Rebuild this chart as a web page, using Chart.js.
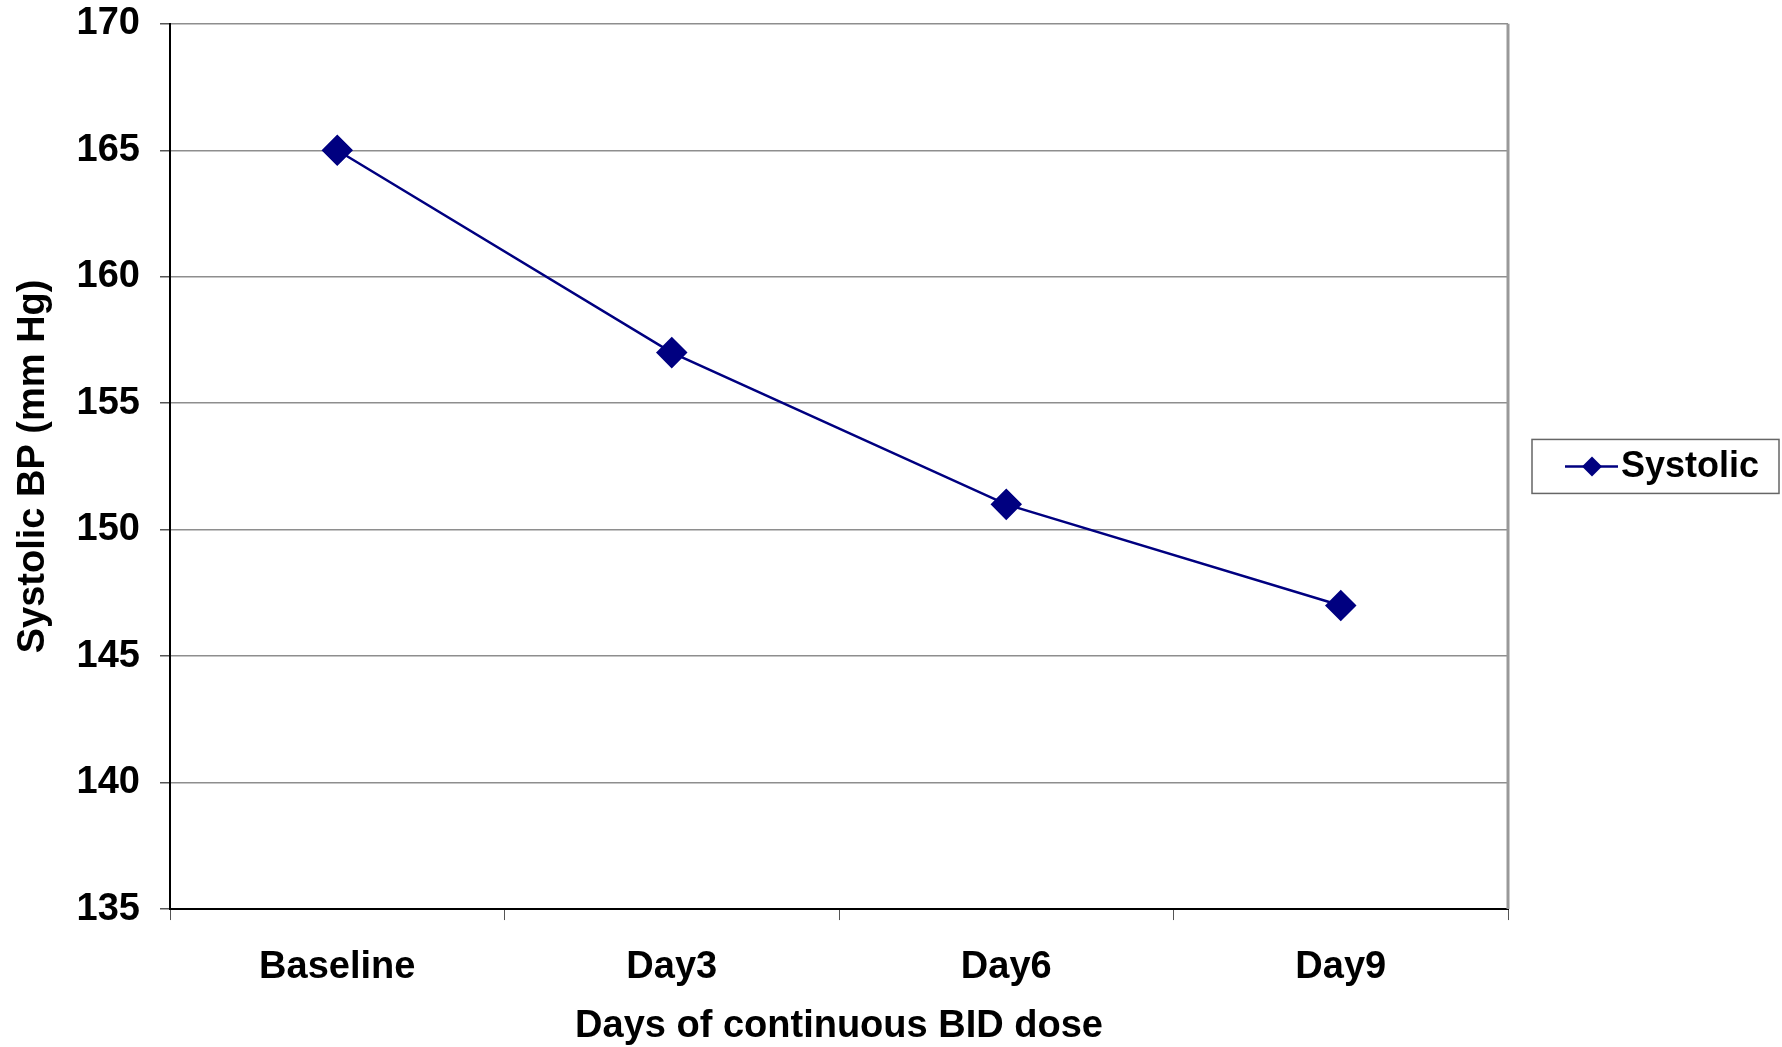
<!DOCTYPE html>
<html>
<head>
<meta charset="utf-8">
<script src="https://cdn.jsdelivr.net/npm/chart.js@4.4.0/dist/chart.umd.min.js"></script>
<style>
  html, body { margin: 0; padding: 0; background: #fff; }
  #wrap { width: 1782px; height: 1047px; }
</style>
</head>
<body>
<div id="wrap"><canvas id="grafica"></canvas></div>
<script>
/* datos */
const dias = ['Baseline', 'Day3', 'Day6', 'Day9'];
const sistolica = [165, 157, 151, 147];
const ticksY = [135, 140, 145, 150, 155, 160, 165, 170];
const nombreSerie = 'Systolic';

const azul = '#000080';
const familia = 'Liberation Sans, Arial, sans-serif';
const fuenteX = { family: familia, size: 38, weight: 'bold', lineHeight: 1 };
const fuenteY = { family: familia, size: 38, weight: 'bold', lineHeight: 0.2 };
const fuenteTituloX = { family: familia, size: 38, weight: 'bold', lineHeight: 0.63 };
const fuenteTituloY = { family: familia, size: 38, weight: 'bold', lineHeight: 1.2 };

// borde derecho del area + leyenda con recuadro
const extras = {
  id: 'extras',
  afterDraw(chart) {
    const c = chart.ctx;
    const a = chart.chartArea;
    c.save();
    c.strokeStyle = '#999999';
    c.lineWidth = 3;
    c.beginPath();
    c.moveTo(a.right, a.top);
    c.lineTo(a.right, a.bottom);
    c.stroke();

    // leyenda
    const bx = 1532, bw = 247, bh = 54;
    const by = (a.top + a.bottom) / 2 - bh / 2;
    c.fillStyle = '#fff';
    c.fillRect(bx, by, bw, bh);
    c.strokeStyle = '#666666';
    c.lineWidth = 1.5;
    c.strokeRect(bx, by, bw, bh);
    const cy = by + bh / 2;
    c.strokeStyle = azul;
    c.lineWidth = 2.5;
    c.beginPath();
    c.moveTo(bx + 33, cy);
    c.lineTo(bx + 86, cy);
    c.stroke();
    c.fillStyle = azul;
    c.beginPath();
    c.moveTo(bx + 60, cy - 10);
    c.lineTo(bx + 70, cy);
    c.lineTo(bx + 60, cy + 10);
    c.lineTo(bx + 50, cy);
    c.closePath();
    c.fill();
    c.fillStyle = '#000';
    c.font = 'bold 36px "Liberation Sans", Arial, sans-serif';
    c.textBaseline = 'middle';
    c.fillText(nombreSerie, bx + 89, cy + 1);
    c.restore();
  }
};

new Chart(document.getElementById('grafica'), {
  type: 'line',
  data: {
    labels: dias,
    datasets: [{
      label: nombreSerie,
      data: sistolica,
      borderColor: azul,
      backgroundColor: azul,
      borderWidth: 2.5,
      pointStyle: 'rectRot',
      pointRadius: 14,
      pointHoverRadius: 14,
      tension: 0
    }]
  },
  options: {
    responsive: true,
    maintainAspectRatio: false,
    animation: false,
    layout: { padding: { top: 0, right: 274, bottom: 9, left: 11 } },
    plugins: {
      legend: { display: false },
      tooltip: { enabled: false }
    },
    scales: {
      x: {
        offset: true,
        grid: {
          offset: true,
          drawOnChartArea: false,
          drawTicks: true,
          tickLength: 11,
          tickColor: '#555'
        },
        border: { color: '#000', width: 2 },
        ticks: { color: '#000', font: fuenteX, padding: 28, maxRotation: 0 },
        title: {
          display: true,
          text: 'Days of continuous BID dose',
          color: '#000',
          font: fuenteTituloX,
          padding: { top: 0, bottom: 0 }
        }
      },
      y: {
        min: 135,
        max: 170,
        afterBuildTicks(axis) { axis.ticks = ticksY.map(v => ({ value: v })); },
        grid: {
          color: '#8e8e8e',
          lineWidth: 1.5,
          tickColor: '#555',
          tickLength: 10
        },
        border: { color: '#000', width: 2 },
        ticks: { color: '#000', font: fuenteY, padding: 20 },
        title: {
          display: true,
          text: 'Systolic BP (mm Hg)',
          color: '#000',
          font: fuenteTituloY,
          padding: { top: 0, bottom: 0 }
        }
      }
    }
  },
  plugins: [extras]
});
</script>
</body>
</html>
